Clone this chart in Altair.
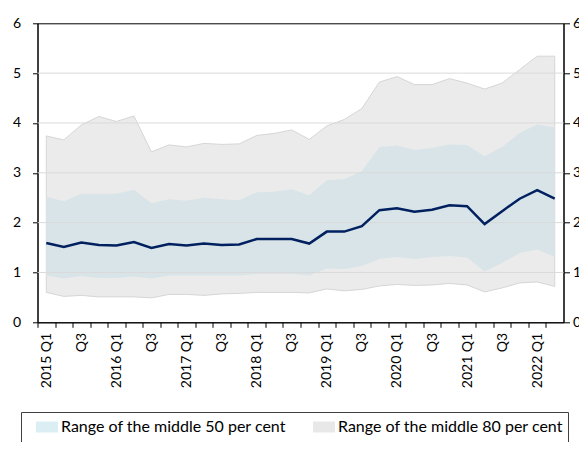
import json
import altair as alt
import pandas as pd

quarters = [
    "2015 Q1", "2015 Q2", "2015 Q3", "2015 Q4",
    "2016 Q1", "2016 Q2", "2016 Q3", "2016 Q4",
    "2017 Q1", "2017 Q2", "2017 Q3", "2017 Q4",
    "2018 Q1", "2018 Q2", "2018 Q3", "2018 Q4",
    "2019 Q1", "2019 Q2", "2019 Q3", "2019 Q4",
    "2020 Q1", "2020 Q2", "2020 Q3", "2020 Q4",
    "2021 Q1", "2021 Q2", "2021 Q3", "2021 Q4",
    "2022 Q1", "2022 Q2",
]
tick_labels = [
    "2015 Q1", "", "Q3", "", "2016 Q1", "", "Q3", "", "2017 Q1", "", "Q3", "",
    "2018 Q1", "", "Q3", "", "2019 Q1", "", "Q3", "", "2020 Q1", "", "Q3", "",
    "2021 Q1", "", "Q3", "", "2022 Q1", "",
]

p90 = [3.74, 3.66, 3.96, 4.13, 4.03, 4.14, 3.42, 3.56, 3.52, 3.59,
       3.57, 3.58, 3.75, 3.79, 3.86, 3.67, 3.94, 4.07, 4.29, 4.82,
       4.93, 4.77, 4.77, 4.89, 4.80, 4.68, 4.80, 5.07, 5.34, 5.34]
p75 = [2.52, 2.43, 2.58, 2.58, 2.58, 2.66, 2.39, 2.47, 2.44, 2.50,
       2.47, 2.45, 2.61, 2.62, 2.67, 2.55, 2.85, 2.87, 3.03, 3.52,
       3.55, 3.46, 3.50, 3.57, 3.56, 3.33, 3.52, 3.80, 3.97, 3.91]
median = [1.59, 1.51, 1.60, 1.55, 1.54, 1.61, 1.49, 1.57, 1.54, 1.58,
          1.55, 1.56, 1.67, 1.67, 1.67, 1.58, 1.82, 1.82, 1.93, 2.25,
          2.29, 2.22, 2.26, 2.35, 2.33, 1.97, 2.23, 2.48, 2.65, 2.48]
p25 = [0.94, 0.88, 0.93, 0.89, 0.89, 0.92, 0.88, 0.94, 0.94, 0.94,
       0.94, 0.94, 0.97, 0.97, 0.97, 0.94, 1.08, 1.07, 1.13, 1.27,
       1.31, 1.27, 1.31, 1.33, 1.30, 1.02, 1.19, 1.39, 1.46, 1.31]
p10 = [0.60, 0.52, 0.54, 0.51, 0.51, 0.51, 0.49, 0.56, 0.56, 0.54,
       0.57, 0.58, 0.60, 0.60, 0.60, 0.59, 0.67, 0.63, 0.66, 0.73,
       0.76, 0.74, 0.75, 0.78, 0.75, 0.61, 0.69, 0.79, 0.81, 0.72]

y_ticks = [0, 1, 2, 3, 4, 5, 6]
grid_values = [1, 2, 3, 4, 5]

legend_labels = ["Range of the middle 50 per cent", "Range of the middle 80 per cent", "Median"]
legend_colors = ["#dbeef4", "#e8e8e8", "#002060"]
legend_shapes = ["M-1,-0.5H1V0.5H-1Z", "M-1,-0.5H1V0.5H-1Z", "M-1,-0.11H1V0.11H-1Z"]

FONT = "Lato"
W, H = 526, 299
n = len(quarters)
half_step = W / n / 2

df = pd.DataFrame({"quarter": quarters, "p90": p90, "p75": p75,
                   "median": median, "p25": p25, "p10": p10})

# ticks sit on quarter boundaries (shifted half a step), labels stay on the quarter centres
label_expr = (json.dumps(tick_labels) + "[indexof(" + json.dumps(quarters) + ", datum.value)] || ''")

xscale = alt.Scale(type="point", padding=0.5)
yscale = alt.Scale(domain=[0, 6], nice=False, zero=True)

x_axis = alt.Axis(
    title=None, labelAngle=-90, labelOverlap=False, labelExpr=label_expr,
    tickOffset=-half_step, labelOffset=half_step,
    tickSize=5, labelPadding=5, domainColor="black", tickColor="black",
    labelFont=FONT, labelFontSize=14, labelColor="black", grid=False,
)
x_enc = alt.X("quarter:O", sort=quarters, scale=xscale, axis=x_axis)
x_plain = alt.X("quarter:O", sort=quarters, scale=xscale)

left_axis = alt.Axis(title=None, values=y_ticks, grid=False, tickSize=5, labelPadding=12,
                     domainColor="black", tickColor="black", labelFont=FONT,
                     labelFontSize=14, labelColor="black")
right_axis = alt.Axis(title=None, orient="right", values=y_ticks, grid=False, tickSize=6,
                      labelPadding=3, domainColor="black", tickColor="black",
                      labelFont=FONT, labelFontSize=14, labelColor="black")

area80 = alt.Chart(df).mark_area(color="#ebebeb", stroke="#d6d6d6", strokeWidth=1).encode(
    x=x_enc,
    y=alt.Y("p90:Q", scale=yscale, axis=left_axis),
    y2="p10:Q",
)
area50 = alt.Chart(df).mark_area(color="#d9e4e8").encode(
    x=x_plain,
    y=alt.Y("p75:Q", scale=yscale, axis=None),
    y2="p25:Q",
)
grid = alt.Chart(pd.DataFrame({"g": grid_values})).mark_rule(color="#dadada", strokeWidth=1).encode(
    y=alt.Y("g:Q", scale=yscale, axis=right_axis)
)
line = alt.Chart(df).mark_line(color="#002060", strokeWidth=2.5).encode(
    x=x_plain,
    y=alt.Y("median:Q", scale=yscale, axis=None),
)

leg = alt.Legend(
    title=None, orient="none", legendX=-16.5, legendY=388.7, columns=2, direction="horizontal",
    padding=4, strokeColor="#404040", fillColor="white",
    symbolSize=484, symbolOffset=11, symbolStrokeWidth=0, symbolOpacity=1,
    labelOffset=3, labelFont=FONT, labelFontSize=16, labelColor="black",
    labelLimit=400, columnPadding=15, rowPadding=5,
)
legend_pts = alt.Chart(pd.DataFrame({"series": legend_labels})).mark_point(
    filled=True, opacity=0
).encode(
    color=alt.Color("series:N", sort=legend_labels,
                    scale=alt.Scale(domain=legend_labels, range=legend_colors), legend=leg),
    shape=alt.Shape("series:N", sort=legend_labels,
                    scale=alt.Scale(domain=legend_labels, range=legend_shapes), legend=leg),
)

# fixed total size 571 x 434 so the page neither scrolls nor scales the drawing
chart = alt.layer(area80, area50, grid, line, legend_pts).resolve_scale(y="independent").properties(
    width=W, height=H,
    autosize=alt.AutoSizeParams(type="none"),
    padding={"left": 29.5, "top": 15.3, "right": 15.5, "bottom": 119.7},
).configure_view(stroke="black", strokeWidth=1).configure_axis(labelOverlap=False)

chart.save("out.html", embed_options={"renderer": "svg", "actions": False})
